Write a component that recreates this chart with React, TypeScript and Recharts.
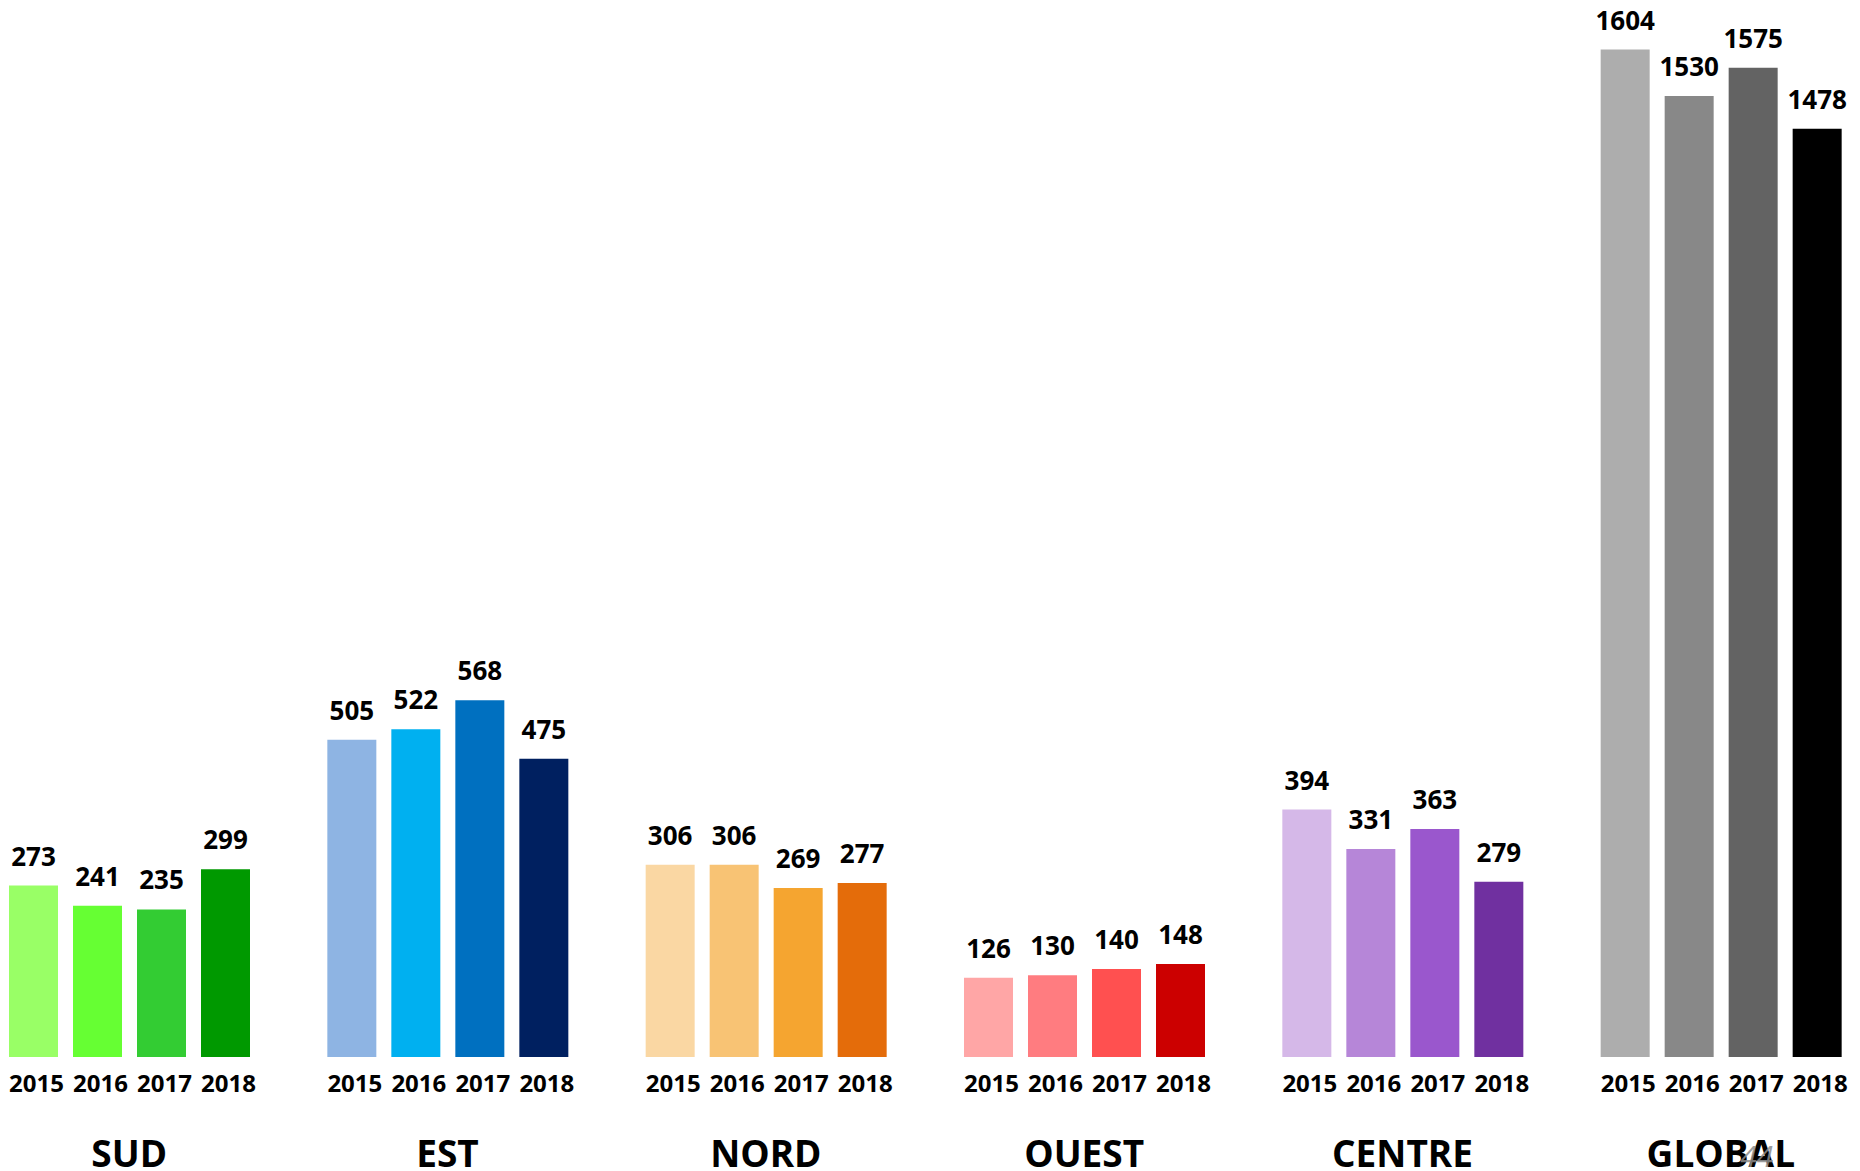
import { BarChart, Bar, XAxis, YAxis, Cell, LabelList } from "recharts"

const regions = ["SUD", "EST", "NORD", "OUEST", "CENTRE", "GLOBAL"]
const years = ["2015", "2016", "2017", "2018"]

const values2015 = [273, 505, 306, 126, 394, 1604]
const values2016 = [241, 522, 306, 130, 331, 1530]
const values2017 = [235, 568, 269, 140, 363, 1575]
const values2018 = [299, 475, 277, 148, 279, 1478]

// one colour ramp per region, light (2015) to dark (2018)
const regionColors = [
  ["#99FF66", "#66FF33", "#33CC33", "#009900"],
  ["#8EB4E3", "#00B0F0", "#0070C0", "#002060"],
  ["#FAD7A3", "#F8C374", "#F5A530", "#E46C0A"],
  ["#FFA6A6", "#FF7C80", "#FF5050", "#CC0000"],
  ["#D5B8E8", "#B686D8", "#9A57CD", "#7030A0"],
  ["#ADADAD", "#888888", "#636363", "#000000"],
]

const seriesValues = [values2015, values2016, values2017, values2018]
const keys = years.map((y) => `y${y}`)

const data = regions.map((region, i) => {
  const row: Record<string, string | number> = { region }
  keys.forEach((k, s) => {
    row[k] = seriesValues[s][i]
  })
  return row
})

const FONT = "'Open Sans', 'Noto Sans', sans-serif"
const PAGE_NUMBER = "44"

function ValueLabel(props: any) {
  const { x, y, width, value } = props
  return (
    <text
      x={x + width / 2}
      y={y - 20}
      textAnchor="middle"
      fontFamily={FONT}
      fontWeight={700}
      fontSize={26}
      fill="#000"
    >
      {value}
    </text>
  )
}

function makeYearLabel(year: string) {
  return function YearLabel(props: any) {
    const { x, y, width, height } = props
    return (
      <text
        x={x + width / 2 + 3}
        y={y + height + 35}
        textAnchor="middle"
        fontFamily={FONT}
        fontWeight={700}
        fontSize={24}
        fill="#000"
      >
        {year}
      </text>
    )
  }
}

function RegionTick(props: any) {
  const { x, y, payload } = props
  return (
    <g>
      <text
        x={x}
        y={y + 110}
        textAnchor="middle"
        fontFamily={FONT}
        fontWeight={700}
        fontSize={37}
        fill="#000"
      >
        {payload.value}
      </text>
      {payload.value === "GLOBAL" && (
        <text
          x={x + 36}
          y={y + 110}
          textAnchor="middle"
          fontFamily={FONT}
          fontStyle="italic"
          fontSize={30}
          fill="#8c8c8c"
          fillOpacity={0.85}
        >
          {PAGE_NUMBER}
        </text>
      )}
    </g>
  )
}

export default function App() {
  return (
    <div
      style={{
        position: "absolute",
        left: 0,
        top: 0,
        width: 1860,
        height: 1171,
        overflow: "hidden",
        background: "#fff",
      }}
    >
      <div style={{ marginLeft: -30 }}>
        <BarChart
          width={1910}
          height={1171}
          data={data}
          margin={{ top: 0, right: 0, left: 0, bottom: 0 }}
          barSize={49}
          barGap={15}
        >
          <XAxis
            dataKey="region"
            height={114}
            axisLine={false}
            tickLine={false}
            tickSize={0}
            tickMargin={0}
            interval={0}
            tick={<RegionTick />}
          />
          <YAxis hide domain={[0, 1683]} />
          {keys.map((k, s) => (
            <Bar key={k} dataKey={k} isAnimationActive={false}>
              {data.map((_, i) => (
                <Cell key={i} fill={regionColors[i][s]} />
              ))}
              <LabelList dataKey={k} content={<ValueLabel />} />
              <LabelList dataKey={k} content={makeYearLabel(years[s])} />
            </Bar>
          ))}
        </BarChart>
      </div>
    </div>
  )
}
